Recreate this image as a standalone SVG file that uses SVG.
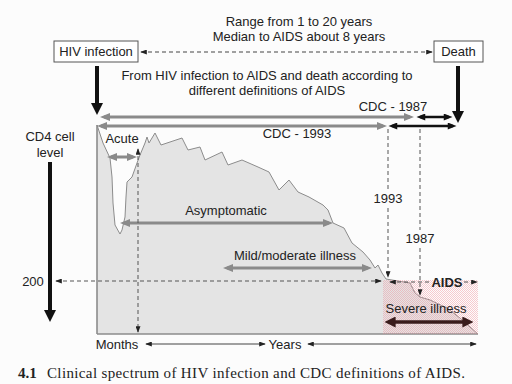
<svg xmlns="http://www.w3.org/2000/svg" width="512" height="384" viewBox="0 0 512 384">
<style>
text{font-family:"Liberation Sans",Arial,sans-serif;font-size:13px;fill:#222}
.cap{font-family:"Liberation Serif","Times New Roman",serif;font-size:15px;fill:#222}
.box{fill:#fff;stroke:#555;stroke-width:1}
.dash{stroke:#555;stroke-width:1;stroke-dasharray:4 3;fill:none}
.thin{stroke:#444;stroke-width:1;fill:none}
.gray{stroke:#8a8a8a;stroke-width:3;fill:none}
.blk{stroke:#111;stroke-width:2.5;fill:none}
.big{stroke:#111;stroke-width:4;fill:none}
</style>
<defs>
<marker id="ag" viewBox="0 0 10 8" refX="6" refY="4" markerWidth="10" markerHeight="8" markerUnits="userSpaceOnUse" orient="auto-start-reverse"><path d="M0,0 L10,4 L0,8 z" fill="#8a8a8a"/></marker>
<marker id="ab" viewBox="0 0 10 8" refX="6" refY="4" markerWidth="10" markerHeight="7" markerUnits="userSpaceOnUse" orient="auto-start-reverse"><path d="M0,0 L10,4 L0,8 z" fill="#111"/></marker>
<marker id="abig" viewBox="0 0 10 10" refX="5" refY="5" markerWidth="12" markerHeight="14" markerUnits="userSpaceOnUse" orient="auto"><path d="M0,0 L10,5 L0,10 z" fill="#111"/></marker>
<marker id="as" viewBox="0 0 8 6" refX="7" refY="3" markerWidth="7" markerHeight="5" markerUnits="userSpaceOnUse" orient="auto-start-reverse"><path d="M0,0 L8,3 L0,6 z" fill="#222"/></marker>
<marker id="ad" viewBox="0 0 10 10" refX="6" refY="5" markerWidth="11" markerHeight="11" markerUnits="userSpaceOnUse" orient="auto-start-reverse"><path d="M0,0 L10,5 L0,10 z" fill="#3a1c1c"/></marker>
<pattern id="pink" width="2" height="2" patternUnits="userSpaceOnUse"><rect width="1" height="1" fill="#f08a96"/><rect x="1" y="1" width="1" height="1" fill="#f08a96"/></pattern>
</defs>
<rect width="512" height="384" fill="#fcfcfc"/>

<g id="graph">
<path d="M97,125 L103,143 L110,158 L112,177 L113,203 L115,225 L120,234 L122,230 L125,217 L126,197 L127,182 L132,177 L137,163 L140,155 L145,143 L147,137 L149,143 L155,133 L161,145 L182,138 L188,150 L200,147 L205,160 L222,152 L228,165 L242,160 L258,167 L269,172 L279,190 L289,180 L298,192 L309,197 L323,205 L328,210 L333,223 L344,228 L352,243 L363,252 L370,260 L375,268 L378,265 L382,273 L386,279 L410,283 L415,293 L420,297 L430,300 L447,308 L460,318 L470,327 L478,334 L97,334 Z" fill="#e4e4e4" stroke="#8c8c8c" stroke-width="1"/>
<line x1="97" y1="125" x2="97" y2="334" stroke="#8c8c8c" stroke-width="1.2"/>
<line x1="97" y1="334" x2="478" y2="334" stroke="#8c8c8c" stroke-width="1.2"/>
</g>

<g id="aids-region">
<rect x="383" y="280" width="95" height="54" fill="url(#pink)" opacity="0.45"/>
</g>

<g id="connectors">
<line class="thin" x1="141" y1="52" x2="432" y2="52" stroke-dasharray="4 3" marker-start="url(#as)" marker-end="url(#as)"/>
<line class="big" x1="97" y1="66" x2="97" y2="109" marker-end="url(#abig)"/>
<line class="big" x1="458" y1="66" x2="458" y2="117" marker-end="url(#abig)"/>
<line class="gray" x1="104" y1="117" x2="410" y2="117" marker-start="url(#ag)" marker-end="url(#ag)"/>
<line class="blk" x1="420" y1="117" x2="449" y2="117" marker-start="url(#ab)" marker-end="url(#ab)"/>
<line class="gray" x1="101" y1="126" x2="383" y2="126" marker-start="url(#ag)" marker-end="url(#ag)"/>
<line class="blk" x1="392" y1="126" x2="453" y2="126" marker-start="url(#ab)" marker-end="url(#ab)"/>
<line class="gray" x1="111" y1="157" x2="133" y2="157" marker-start="url(#ag)" marker-end="url(#ag)"/>
<line class="gray" x1="124" y1="223" x2="329" y2="223" marker-start="url(#ag)" marker-end="url(#ag)"/>
<line class="gray" x1="227" y1="268" x2="368" y2="268" marker-start="url(#ag)" marker-end="url(#ag)"/>
<line x1="389" y1="322" x2="469" y2="322" stroke="#3a1c1c" stroke-width="3.5" marker-start="url(#ad)" marker-end="url(#ad)"/>
<line class="dash" x1="138" y1="149" x2="138" y2="332" marker-start="url(#as)" marker-end="url(#as)"/>
<line class="dash" x1="56" y1="281" x2="381" y2="281" marker-start="url(#as)" marker-end="url(#as)"/>
<line class="dash" x1="390" y1="282" x2="431" y2="282" marker-start="url(#as)"/>
<line class="dash" x1="464" y1="282" x2="477" y2="282" marker-end="url(#as)"/>
<line class="dash" x1="388" y1="129" x2="388" y2="190"/>
<line class="dash" x1="388" y1="208" x2="388" y2="277" marker-end="url(#as)"/>
<line class="dash" x1="420" y1="129" x2="420" y2="230"/>
<line class="dash" x1="420" y1="248" x2="420" y2="295" marker-end="url(#as)"/>
<line class="big" x1="50" y1="162" x2="50" y2="316" marker-end="url(#abig)"/>
<line class="thin" x1="146" y1="344" x2="265" y2="344" marker-start="url(#as)" marker-end="url(#as)"/>
<line class="thin" x1="308" y1="344" x2="476" y2="344" marker-start="url(#as)" marker-end="url(#as)"/>
</g>

<g id="hiv-infection">
<rect class="box" x="54" y="41" width="84" height="21"/>
<text x="96" y="56" text-anchor="middle">HIV infection</text>
</g>
<g id="death">
<rect class="box" x="434" y="41" width="49" height="21"/>
<text x="458.5" y="56" text-anchor="middle">Death</text>
</g>

<g id="labels">
<text x="299" y="26" text-anchor="middle">Range from 1 to 20 years</text>
<text x="299" y="41" text-anchor="middle">Median to AIDS about 8 years</text>
<text x="267" y="80" text-anchor="middle">From HIV infection to AIDS and death according to</text>
<text x="267" y="95" text-anchor="middle">different definitions of AIDS</text>
<text x="393" y="111" text-anchor="middle">CDC - 1987</text>
<text x="297" y="138" text-anchor="middle">CDC - 1993</text>
<text x="50" y="141" text-anchor="middle">CD4 cell</text>
<text x="50" y="157" text-anchor="middle">level</text>
<text x="122" y="143" text-anchor="middle">Acute</text>
<text x="226" y="215" text-anchor="middle">Asymptomatic</text>
<text x="295" y="260" text-anchor="middle">Mild/moderate illness</text>
<text x="388" y="203" text-anchor="middle">1993</text>
<text x="420" y="243" text-anchor="middle">1987</text>
<text x="33" y="286" text-anchor="middle">200</text>
<text x="447" y="287" text-anchor="middle" font-weight="bold">AIDS</text>
<text x="426" y="313" text-anchor="middle">Severe illness</text>
<text x="117" y="349" text-anchor="middle">Months</text>
<text x="285" y="349" text-anchor="middle">Years</text>
<text class="cap" x="18" y="378" font-weight="bold">4.1</text>
<text class="cap" x="47" y="378" textLength="418" lengthAdjust="spacing">Clinical spectrum of HIV infection and CDC definitions of AIDS.</text>
</g>
</svg>
